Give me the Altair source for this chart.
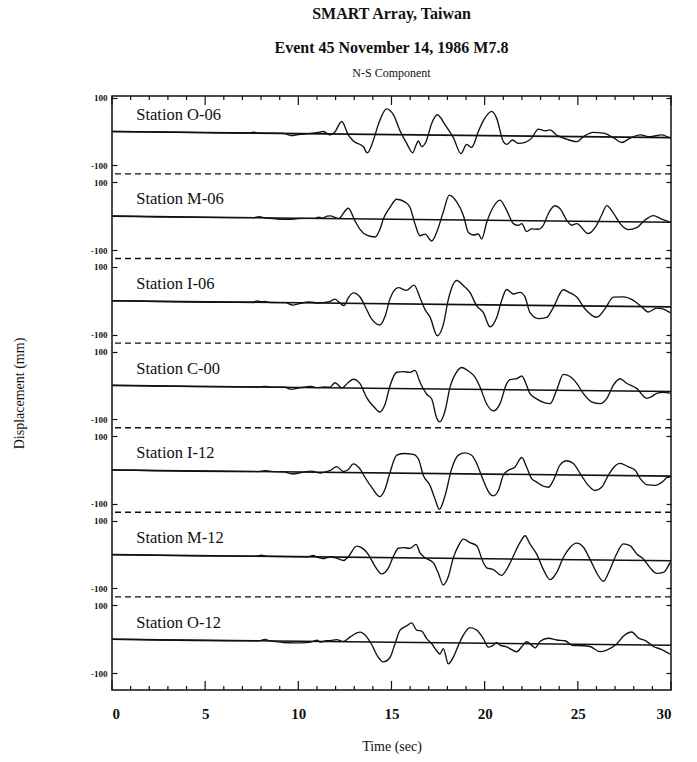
import altair as alt
import pandas as pd

# ---------------- data ----------------
STATIONS = ["Station O-06", "Station M-06", "Station I-06", "Station C-00",
            "Station I-12", "Station M-12", "Station O-12"]

# (time s, displacement mm relative to the trace's own baseline)
O06 = [(0, 0), (5, 0), (7.3, 0), (7.6, 3), (7.9, 0), (9.2, 0), (9.6, -6), (10.0, -3), (10.5, 0),
       (11.0, 3), (11.35, 7), (11.7, -3), (11.95, 5), (12.33, 37), (12.68, -2), (12.95, -20),
       (13.49, -37), (13.70, -55), (14.03, -17), (14.29, 29), (14.74, 76), (15.10, 59), (15.46, 11),
       (15.81, -25), (16.14, -53), (16.32, -30), (16.44, -18), (16.62, -35), (16.85, -20), (17.16, 35),
       (17.46, 60), (17.87, 31), (18.32, -7), (18.73, -54), (19.03, -27), (19.30, -35), (19.66, 12),
       (19.96, 47), (20.38, 72), (20.64, 52), (21.00, -17), (21.18, -25), (21.50, -12), (21.81, -22),
       (22.17, -19), (22.52, -6), (22.88, 21), (23.24, 16), (23.51, 19), (23.86, 4), (24.40, -8),
       (24.94, -15), (25.30, 0), (25.83, 13), (26.37, 11), (26.91, -2), (27.35, -16), (27.80, -3),
       (28.34, 7), (28.87, 2), (29.50, 8), (29.95, -2)]

M06 = [(0, 0), (7.6, 0), (7.9, 3), (8.2, 0), (8.8, -3), (9.5, -4), (10.0, -1), (10.9, 0), (11.1, 4),
       (11.3, 1), (11.55, 7), (11.7, 8), (12.15, 0), (12.68, 31), (13.04, -6), (13.31, -31), (13.67, -48),
       (14.12, -53), (14.38, -30), (14.56, 0), (14.92, 35), (15.28, 59), (15.73, 51), (15.99, 36),
       (16.26, -13), (16.53, -48), (16.80, -43), (17.16, -63), (17.42, -38), (17.78, 23), (18.10, 73),
       (18.50, 53), (18.86, 13), (19.12, -36), (19.39, -44), (19.66, -41), (19.84, -56), (20.11, -6),
       (20.47, 40), (20.82, 60), (21.18, 30), (21.54, -9), (21.81, -14), (21.99, -9), (22.25, -32),
       (22.52, -24), (22.88, -25), (23.15, -13), (23.42, 22), (23.78, 45), (24.04, 37), (24.40, 3),
       (24.67, -12), (24.94, -7), (25.56, -36), (26.01, -11), (26.28, 19), (26.55, 47), (26.91, 25),
       (27.26, -5), (27.71, -23), (28.16, -17), (28.61, 6), (29.05, 19), (29.50, 9), (29.95, 0)]

I06 = [(0, 0), (7.5, 0), (7.8, 4), (8.0, 2), (8.2, 3), (8.5, 0), (9.3, 0), (9.7, -7), (10.0, -3),
       (10.6, 3), (11.1, 0), (11.4, 2), (11.70, 5), (11.97, 12), (12.24, 0), (12.45, -7), (12.68, 16),
       (12.95, 31), (13.31, 19), (13.58, -8), (13.94, -46), (14.38, -63), (14.65, -38), (14.92, 15),
       (15.37, 48), (15.81, 40), (16.21, 56), (16.53, 19), (16.80, -16), (17.07, -38), (17.46, -93),
       (17.78, -60), (18.05, 15), (18.50, 71), (18.86, 56), (19.21, 36), (19.57, -3), (19.93, -23),
       (20.29, -65), (20.64, -38), (20.91, 13), (21.18, 46), (21.54, 33), (21.90, 38), (22.17, 24),
       (22.43, -21), (22.88, -39), (23.33, -35), (23.69, -5), (24.22, 47), (24.58, 38), (24.94, 26),
       (25.39, -9), (26.01, -33), (26.46, -8), (26.91, 27), (27.44, 28), (27.98, 18), (28.43, -1),
       (28.78, -16), (29.23, -4), (29.59, -7), (29.95, -17)]

C00 = [(0, 0), (7.9, 0), (8.2, 2), (8.5, 0), (9.3, 0), (9.6, -6), (10.0, -2), (10.7, 3), (11.0, 0),
       (11.4, 2), (11.70, 2), (11.97, 15), (12.33, 0), (12.68, 16), (12.95, 26), (13.31, 13),
       (13.58, -18), (13.67, -28), (14.03, -53), (14.38, -70), (14.65, -48), (14.92, 8), (15.28, 48),
       (15.64, 50), (15.99, 48), (16.26, 54), (16.53, 19), (16.89, -16), (17.16, -30), (17.42, -85),
       (17.60, -97), (17.87, -65), (18.14, 5), (18.50, 51), (18.77, 64), (19.12, 54), (19.48, 36),
       (19.75, 7), (20.11, -43), (20.47, -63), (20.82, -42), (21.18, 18), (21.36, 30), (21.72, 33),
       (21.99, 41), (22.25, 14), (22.43, -11), (22.79, -26), (23.15, -36), (23.51, -40), (23.86, 0),
       (24.22, 47), (24.58, 41), (24.94, 21), (25.30, -9), (25.74, -33), (26.19, -38), (26.55, -23),
       (26.91, 17), (27.26, 36), (27.62, 23), (28.16, 8), (28.69, -21), (28.96, -16), (29.23, -6),
       (29.59, -3), (29.95, -5)]

I12 = [(0, 0), (7.9, 0), (8.2, 3), (8.5, 1), (9.2, 0), (9.7, -6), (10.1, -2), (10.7, 3), (11.2, -2),
       (11.5, 2), (11.70, 5), (12.06, 17), (12.42, 3), (12.68, 9), (12.95, 26), (13.31, 11),
       (13.58, -14), (13.94, -43), (14.38, -70), (14.65, -48), (14.92, 2), (15.28, 53), (15.64, 58),
       (16.17, 56), (16.44, 43), (16.71, -6), (17.07, -36), (17.34, -76), (17.57, -106), (17.87, -66),
       (18.23, 15), (18.59, 55), (18.95, 62), (19.30, 55), (19.57, 31), (19.93, -19), (20.29, -59),
       (20.47, -64), (20.73, -49), (21.00, -3), (21.27, 12), (21.63, 22), (21.99, 50), (22.25, 22),
       (22.52, -12), (22.79, -22), (23.15, -34), (23.42, -37), (23.69, -16), (24.04, 29), (24.40, 42),
       (24.76, 34), (25.12, 5), (25.56, -30), (25.92, -45), (26.28, -35), (26.64, 1), (26.91, 23),
       (27.26, 36), (27.71, 26), (28.07, 17), (28.34, -8), (28.69, -26), (29.14, -28), (29.59, -15),
       (29.77, -5), (29.95, -3)]

M12 = [(0, 0), (7.8, 0), (8.0, 3), (8.3, 0), (10.5, 0), (10.8, 4), (11.0, -1), (11.3, -5), (11.7, 0),
       (12.06, -3), (12.42, -10), (12.68, 1), (13.13, 33), (13.49, 25), (13.76, 8), (14.12, -26),
       (14.47, -48), (14.83, -31), (15.10, 4), (15.37, 28), (15.64, 30), (15.99, 28), (16.32, 40),
       (16.53, 15), (16.80, 1), (17.25, -14), (17.51, -44), (17.78, -79), (18.05, -54), (18.32, 2),
       (18.59, 37), (18.86, 57), (19.21, 47), (19.57, 38), (19.93, -12), (20.11, -27), (20.47, -32),
       (20.91, -49), (21.18, -31), (21.54, 9), (21.90, 49), (22.17, 69), (22.43, 45), (22.79, 15),
       (23.15, -30), (23.51, -60), (23.86, -39), (24.22, 6), (24.58, 36), (24.94, 49), (25.30, 37),
       (25.65, 2), (26.01, -38), (26.37, -63), (26.73, -27), (27.08, 18), (27.44, 48), (27.80, 43),
       (28.16, 19), (28.52, 4), (28.87, -21), (29.23, -38), (29.59, -35), (29.95, -5)]

O12 = [(0, 0), (7.9, 0), (8.2, 4), (8.5, 0), (9.2, -4), (9.8, -5), (10.4, -4), (10.8, 0), (11.0, 4),
       (11.2, -2), (11.5, 3), (11.70, 3), (12.06, 6), (12.42, 1), (12.77, 14), (13.31, 29), (13.67, 15),
       (13.94, -8), (14.29, -45), (14.56, -58), (14.92, -45), (15.19, -4), (15.46, 36), (15.81, 49),
       (16.08, 58), (16.35, 37), (16.62, 34), (16.89, 12), (17.16, -3), (17.42, -23), (17.60, -33),
       (17.78, -17), (18.05, -62), (18.32, -42), (18.59, -7), (18.86, 24), (19.21, 46), (19.57, 39),
       (19.93, 14), (20.20, -11), (20.47, -5), (20.64, 3), (20.82, -5), (21.18, -10), (21.72, -24),
       (21.99, -9), (22.25, 6), (22.52, -4), (22.70, -12), (22.97, 7), (23.42, 17), (23.86, 12),
       (24.31, 10), (24.76, -4), (25.30, -4), (25.65, -6), (26.19, -21), (26.55, -16), (27.08, 2),
       (27.44, 25), (27.89, 38), (28.25, 21), (28.69, 11), (29.05, -4), (29.41, -11), (29.95, -26)]

SERIES = [O06, M06, I06, C00, I12, M12, O12]

X_MAJOR = [0, 5, 10, 15, 20, 25, 30]
X_MINOR = [t for t in range(31) if t % 5 != 0]
Y_TICK_LABELS = [100, -100]

# ---------------- layout constants ----------------
SPACING = 250          # mm between station zero lines
DRIFT = -0.6           # mm/s slope of the drawn baselines
W, H = 559, 594
INK = "#111111"
SERIF = "Liberation Serif"

rows = []
for i, (name, pts) in enumerate(zip(STATIONS, SERIES)):
    for t, v in pts:
        rows.append({"station": name, "panel": i, "t": t, "v": v})
traces = pd.DataFrame(rows)

base_rows = [{"station": s, "panel": i, "t": t, "v": 0}
             for i, s in enumerate(STATIONS) for t in (0, 30)]
baselines = pd.DataFrame(base_rows)

labels = pd.DataFrame({"station": STATIONS, "panel": list(range(7)),
                       "t": [1.3] * 7, "v": [50] * 7})

dashes = pd.DataFrame({"y": [k * SPACING - SPACING / 2 for k in range(1, 7)]})
yticks = [k * SPACING + d for k in range(7) for d in Y_TICK_LABELS]

xs = alt.Scale(domain=[0, 30], nice=False, zero=False)
ys = alt.Scale(domain=[-150, 6 * SPACING + 105], nice=False, zero=False)

ycalc = f"(6 - datum.panel) * {SPACING} + datum.v + ({DRIFT}) * datum.t"

trace_layer = alt.Chart(traces).transform_calculate(yy=ycalc).mark_line(
    interpolate="monotone", color=INK, strokeWidth=1.35
).encode(
    x=alt.X("t:Q", scale=xs, axis=alt.Axis(
        orient="bottom", values=X_MAJOR, ticks=False, domain=False, grid=False,
        labelFont=SERIF, labelFontSize=15, labelFontWeight="bold", labelColor=INK,
        labelPadding=16, title="Time (sec)", titleFont=SERIF, titleFontSize=14,
        titleFontWeight="normal", titleColor=INK, titlePadding=18)),
    y=alt.Y("yy:Q", scale=ys, axis=alt.Axis(
        values=yticks, labelExpr=f"'' + (datum.value - round(datum.value / {SPACING}) * {SPACING})",
        offset=-5, tickSize=5, tickColor=INK, tickWidth=1.2, domain=False, grid=False,
        labelFont=SERIF, labelFontSize=9, labelFontWeight="bold", labelColor=INK,
        labelPadding=5, title="Displacement (mm)", titleFont=SERIF, titleFontSize=14,
        titleFontWeight="normal", titleColor=INK, titlePadding=64)),
    detail="station:N",
)

base_layer = alt.Chart(baselines).transform_calculate(yy=ycalc).mark_line(
    color=INK, strokeWidth=1.6
).encode(
    x=alt.X("t:Q", scale=xs, axis=None),
    y=alt.Y("yy:Q", scale=ys, axis=None),
    detail="station:N",
)

dash_layer = alt.Chart(dashes).mark_rule(
    color=INK, strokeWidth=1.4, strokeDash=[6, 4]
).encode(
    y=alt.Y("y:Q", scale=ys, axis=alt.Axis(
        orient="right", values=yticks, labels=False, offset=-5, tickSize=5,
        tickColor=INK, tickWidth=1.2, domain=False, grid=False, title=None)),
)

label_layer = alt.Chart(labels).transform_calculate(yy=ycalc).mark_text(
    align="left", baseline="middle", font=SERIF, fontSize=16.5, color=INK
).encode(
    x=alt.X("t:Q", scale=xs, axis=None),
    y=alt.Y("yy:Q", scale=ys, axis=None),
    text="station:N",
)

maj = pd.DataFrame({"tick": X_MAJOR})
mnr = pd.DataFrame({"tick": X_MINOR})


def tick_rules(df, y0, y1):
    return alt.Chart(df).mark_rule(color=INK, strokeWidth=1.2).encode(
        x=alt.X("tick:Q", scale=xs, axis=None),
        y=alt.value(y0), y2=alt.value(y1),
    )


ticks = [
    tick_rules(maj, H, H - 9), tick_rules(mnr, H, H - 4),
    tick_rules(maj, 0, 9), tick_rules(mnr, 0, 4),
]

chart = alt.layer(
    trace_layer, base_layer, dash_layer, label_layer, *ticks
).resolve_axis(x="independent", y="independent").properties(
    width=W, height=H,
    autosize=alt.AutoSizeParams(type="none"),
    padding={"left": 112, "top": 96, "right": 26, "bottom": 72},
    background="white",
    title=alt.TitleParams(
        text=["SMART Array, Taiwan", "Event 45 November 14, 1986 M7.8"],
        subtitle="N-S Component",
        font=SERIF, fontSize=16, fontWeight="bold", lineHeight=34, color=INK,
        subtitleFont=SERIF, subtitleFontSize=12, subtitleColor=INK, subtitlePadding=12,
        anchor="middle", offset=15,
    ),
).configure_view(stroke=INK, strokeWidth=1.5)

chart.save("out.html", embed_options={"renderer": "svg", "actions": False})
